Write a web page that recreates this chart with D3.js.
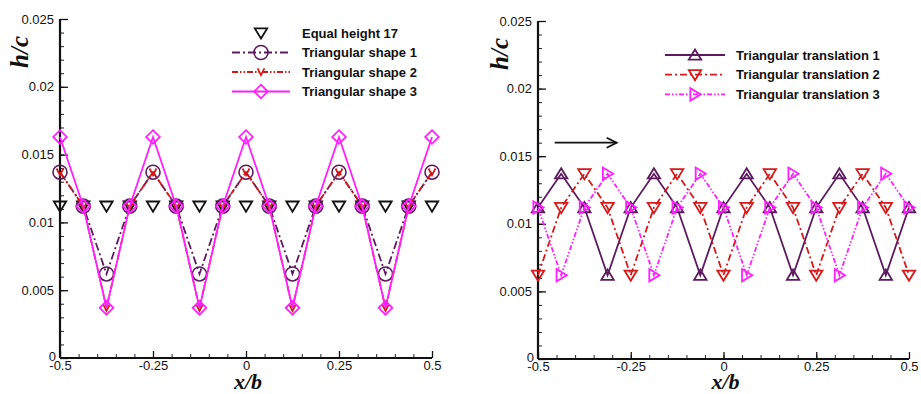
<!DOCTYPE html>
<html>
<head>
<meta charset="utf-8">
<script src="https://cdn.jsdelivr.net/npm/d3@7"></script>
<style>
  body { margin: 0; background: #fff; }
  svg { display: block; }
  .tick text { font-family: 'Liberation Sans', Arial, sans-serif; font-size: 13px; fill: #111; }
  .legend text { font-family: 'Liberation Sans', Arial, sans-serif; font-size: 13px; font-weight: bold; fill: #111; }
  .axis-title { font-family: 'Liberation Serif', 'Times New Roman', serif; font-weight: bold; font-style: italic; fill: #111; }
</style>
</head>
<body>
<script>
const width = 921;
const height = 394;

// sample positions along the span
const xPos = [-0.5, -0.4375, -0.375, -0.3125, -0.25, -0.1875, -0.125, -0.0625, 0,
  0.0625, 0.125, 0.1875, 0.25, 0.3125, 0.375, 0.4375, 0.5];

// left panel series
const equalHeight = [0.0112, 0.0112, 0.0112, 0.0112, 0.0112, 0.0112, 0.0112, 0.0112, 0.0112,
  0.0112, 0.0112, 0.0112, 0.0112, 0.0112, 0.0112, 0.0112, 0.0112];
const triShape1 = [0.0137, 0.0112, 0.0062, 0.0112, 0.0137, 0.0112, 0.0062, 0.0112, 0.0137,
  0.0112, 0.0062, 0.0112, 0.0137, 0.0112, 0.0062, 0.0112, 0.0137];
const triShape2 = [0.0137, 0.0112, 0.0037, 0.0112, 0.0137, 0.0112, 0.0037, 0.0112, 0.0137,
  0.0112, 0.0037, 0.0112, 0.0137, 0.0112, 0.0037, 0.0112, 0.0137];
const triShape3 = [0.0163, 0.0112, 0.0037, 0.0112, 0.0163, 0.0112, 0.0037, 0.0112, 0.0163,
  0.0112, 0.0037, 0.0112, 0.0163, 0.0112, 0.0037, 0.0112, 0.0163];

// right panel series
const triTrans1 = [0.0112, 0.0137, 0.0112, 0.0062, 0.0112, 0.0137, 0.0112, 0.0062, 0.0112,
  0.0137, 0.0112, 0.0062, 0.0112, 0.0137, 0.0112, 0.0062, 0.0112];
const triTrans2 = [0.0062, 0.0112, 0.0137, 0.0112, 0.0062, 0.0112, 0.0137, 0.0112, 0.0062,
  0.0112, 0.0137, 0.0112, 0.0062, 0.0112, 0.0137, 0.0112, 0.0062];
const triTrans3 = [0.0112, 0.0062, 0.0112, 0.0137, 0.0112, 0.0062, 0.0112, 0.0137, 0.0112,
  0.0062, 0.0112, 0.0137, 0.0112, 0.0062, 0.0112, 0.0137, 0.0112];

const xTicks = [-0.5, -0.25, 0, 0.25, 0.5];
const xTickLabels = ['-0.5', '-0.25', '0', '0.25', '0.5'];
const yTicks = [0, 0.005, 0.01, 0.015, 0.02, 0.025];
const yTickLabels = ['0', '0.005', '0.01', '0.015', '0.02', '0.025'];

const purple = '#5b1b5e';
const red = '#d41a1a';
const magenta = '#ff1fff';

const leftSeries = [
  { name: 'Equal height 17', values: equalHeight, color: '#111', dash: null, noLine: true, marker: 'tridown' },
  { name: 'Triangular shape 1', values: triShape1, color: purple, dash: '8,3,2,3', marker: 'circle' },
  { name: 'Triangular shape 2', values: triShape2, color: red, dash: '6,2,1.5,2,1.5,2', marker: 'vee' },
  { name: 'Triangular shape 3', values: triShape3, color: magenta, dash: null, marker: 'diamond' },
];

const rightSeries = [
  { name: 'Triangular translation 1', values: triTrans1, color: purple, dash: null, marker: 'triup' },
  { name: 'Triangular translation 2', values: triTrans2, color: red, dash: '7,3,2,3', marker: 'tridown' },
  { name: 'Triangular translation 3', values: triTrans3, color: magenta, dash: '5,2,1.5,2,1.5,2', marker: 'triright' },
];

function main() {
  const svg = d3.select('body').append('svg').attr('width', width).attr('height', height);

  const left = createPanel(svg, { x0: 60, x1: 432, y0: 358, y1: 19, titleX: 28 });
  drawSeries(left, leftSeries);
  createLegend(svg, leftSeries, { lineX0: 232, lineX1: 290, textX: 302, y0: 33, step: 19.5 });

  const right = createPanel(svg, { x0: 538, x1: 909, y0: 359, y1: 21, titleX: 508 });
  drawSeries(right, rightSeries);
  createLegend(svg, rightSeries, { lineX0: 665, lineX1: 725, textX: 736, y0: 55, step: 19.7 });
  drawArrow(svg, right, -0.455, -0.288, 0.016);
}

function createPanel(svg, box) {
  const xScale = d3.scaleLinear().domain([-0.5, 0.5]).range([box.x0, box.x1]);
  const yScale = d3.scaleLinear().domain([0, 0.025]).range([box.y0, box.y1]);
  const g = svg.append('g');

  // minor ticks
  g.append('g')
    .attr('transform', `translate(0, ${box.y0})`)
    .call(d3.axisBottom(xScale).tickValues(d3.range(-10, 11).map(d => d * 0.05)).tickSize(-4).tickFormat(''))
    .call(a => a.select('.domain').remove())
    .call(a => a.selectAll('line').attr('stroke', '#222'));
  g.append('g')
    .attr('transform', `translate(${box.x0}, 0)`)
    .call(d3.axisLeft(yScale).tickValues(d3.range(0, 26).map(d => d * 0.001)).tickSize(-4).tickFormat(''))
    .call(a => a.select('.domain').remove())
    .call(a => a.selectAll('line').attr('stroke', '#222'));

  // major ticks + labels
  g.append('g')
    .attr('transform', `translate(0, ${box.y0})`)
    .call(d3.axisBottom(xScale).tickValues(xTicks).tickSize(-7).tickPadding(3)
      .tickFormat((d, i) => xTickLabels[i]))
    .call(a => a.select('.domain').attr('stroke', '#111').attr('stroke-width', 2).attr('d', `M${box.x0},0H${box.x1}`))
    .call(a => a.selectAll('line').attr('stroke', '#111').attr('stroke-width', 1.3));
  g.append('g')
    .attr('transform', `translate(${box.x0}, 0)`)
    .call(d3.axisLeft(yScale).tickValues(yTicks).tickSize(-8).tickPadding(6)
      .tickFormat((d, i) => yTickLabels[i]))
    .call(a => a.select('.domain').attr('stroke', '#111').attr('stroke-width', 2.2).attr('d', `M0,${box.y0}V${box.y1}`))
    .call(a => a.selectAll('line').attr('stroke', '#111').attr('stroke-width', 1.3))
    .call(a => a.selectAll('.tick').filter(d => d === 0).select('text').attr('x', -4).attr('dy', '0.2em'));

  // axis titles
  svg.append('text')
    .attr('class', 'axis-title')
    .style('font-size', '22px')
    .attr('x', (box.x0 + box.x1) / 2 + 2)
    .attr('y', 389)
    .attr('text-anchor', 'middle')
    .text('x/b');
  svg.append('text')
    .attr('class', 'axis-title')
    .style('font-size', '25px')
    .attr('transform', `translate(${box.titleX}, ${box.y1 + 33}) rotate(-90)`)
    .attr('text-anchor', 'middle')
    .text('h/c');

  return { g, xScale, yScale };
}

function markerPath(type, s) {
  switch (type) {
    case 'tridown': return `M${-s},${-s * 0.75}L${s},${-s * 0.75}L0,${s * 0.9}Z`;
    case 'triup': return `M${-s},${s * 0.75}L${s},${s * 0.75}L0,${-s * 0.9}Z`;
    case 'triright': return `M${-s * 0.75},${-s}L${-s * 0.75},${s}L${s * 0.9},0Z`;
    case 'diamond': return `M0,${-s * 1.1}L${s * 1.1},0L0,${s * 1.1}L${-s * 1.1},0Z`;
    case 'vee': return `M${-s * 0.55},${-s * 0.6}L0,${s * 0.5}L${s * 0.55},${-s * 0.6}`;
    default: return '';
  }
}

function drawMarker(sel, type, color) {
  if (type === 'circle') {
    sel.append('circle').attr('r', 7).attr('fill', 'none').attr('stroke', color).attr('stroke-width', 1.6);
  } else {
    sel.append('path').attr('d', markerPath(type, 6.2)).attr('fill', 'none')
      .attr('stroke', color).attr('stroke-width', 1.8).attr('stroke-linejoin', 'miter');
  }
}

function drawSeries(panel, series) {
  const { g, xScale, yScale } = panel;
  const line = d3.line().x(d => xScale(d[0])).y(d => yScale(d[1]));

  series.forEach(s => {
    const pts = xPos.map((x, i) => [x, s.values[i]]);
    if (!s.noLine) {
      g.append('path')
        .datum(pts)
        .attr('d', line)
        .attr('fill', 'none')
        .attr('stroke', s.color)
        .attr('stroke-width', 1.8)
        .attr('stroke-dasharray', s.dash);
    }
    g.selectAll(null)
      .data(pts)
      .enter()
      .append('g')
      .attr('transform', d => `translate(${xScale(d[0])}, ${yScale(d[1])})`)
      .each(function () { drawMarker(d3.select(this), s.marker, s.color); });
  });
}

function createLegend(svg, series, opt) {
  const legend = svg.append('g').attr('class', 'legend');
  series.forEach((s, i) => {
    const y = opt.y0 + i * opt.step;
    if (!s.noLine) {
      legend.append('line')
        .attr('x1', opt.lineX0).attr('x2', opt.lineX1)
        .attr('y1', y).attr('y2', y)
        .attr('stroke', s.color).attr('stroke-width', 1.8)
        .attr('stroke-dasharray', s.dash);
    }
    const m = legend.append('g').attr('transform', `translate(${(opt.lineX0 + opt.lineX1) / 2}, ${y})`);
    drawMarker(m, s.marker, s.color);
    legend.append('text')
      .attr('x', opt.textX)
      .attr('y', y)
      .attr('dy', '0.36em')
      .text(s.name);
  });
}

function drawArrow(svg, panel, xa, xb, yv) {
  const { xScale, yScale } = panel;
  const x1 = xScale(xa), x2 = xScale(xb), y = yScale(yv);
  const g = svg.append('g').attr('stroke', '#111').attr('stroke-width', 1.8).attr('fill', 'none');
  g.append('line').attr('x1', x1).attr('x2', x2).attr('y1', y).attr('y2', y);
  g.append('path').attr('d', `M${x2 - 10},${y - 5}L${x2},${y}L${x2 - 10},${y + 5}`);
}

main();
</script>
</body>
</html>
